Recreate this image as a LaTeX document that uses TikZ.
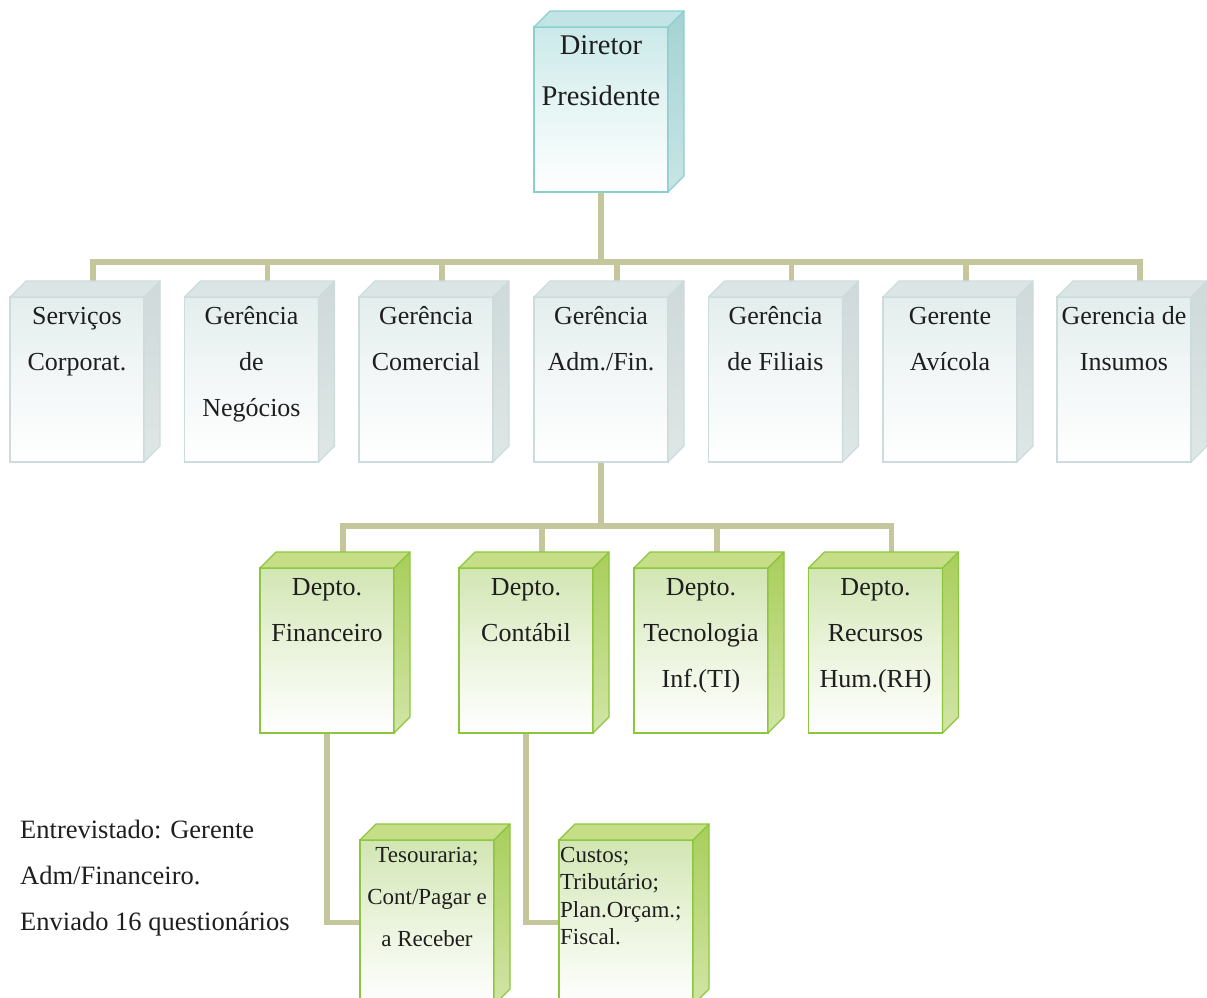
\documentclass[tikz,border=0pt]{standalone}
\usepackage{fontspec}
\setmainfont{Liberation Serif}
\usetikzlibrary{calc}
\pgfdeclarelayer{bg}
\pgfsetlayers{bg,main}
\definecolor{conncol}{HTML}{C6C69C}
\definecolor{txt}{HTML}{1E1E1E}
% cyan (director)
\definecolor{cyB}{HTML}{8CCFCF}
\definecolor{cyF}{HTML}{CBE9E9}
\definecolor{cyT}{HTML}{C3E4E4}
\definecolor{cyS1}{HTML}{A6D2D2}
\definecolor{cyS2}{HTML}{C8E5E5}
% gray
\definecolor{grB}{HTML}{CCDCDC}
\definecolor{grF}{HTML}{E4EDED}
\definecolor{grT}{HTML}{DCE5E5}
\definecolor{grS1}{HTML}{CFD9D9}
\definecolor{grS2}{HTML}{DFE6E6}
% green
\definecolor{gnB}{HTML}{8CC63E}
\definecolor{gnF}{HTML}{D2E6B3}
\definecolor{gnT}{HTML}{C5DE87}
\definecolor{gnS1}{HTML}{A8CE5B}
\definecolor{gnS2}{HTML}{D2E5A6}
\tikzset{
  face/.style={minimum width=134pt, minimum height=165pt, anchor=north west, inner sep=0pt, outer sep=0pt, line width=1.3pt},
  cyface/.style={face, draw=cyB, top color=cyF, bottom color=white, middle color=cyF!45!white},
  grface/.style={face, draw=grB, top color=grF, bottom color=white, middle color=grF!45!white},
  gnface/.style={face, draw=gnB, top color=gnF, bottom color=white, middle color=gnF!45!white},
  lbl/.style={anchor=base, inner sep=0pt, align=center, text=txt},
  conn/.style={draw=conncol, line width=5.5pt, line join=miter}
}
% #1 name, #2 colour prefix
\newcommand\cubefaces[2]{%
  \shade[top color=#2S1, bottom color=#2S2, draw=#2B, line width=1.3pt, line join=round]
    (#1.south east) -- (#1.north east) -- ++(16,-16) -- ($(#1.south east)+(16,-16)$) -- cycle;
  \fill[#2T, draw=#2B, line width=1.3pt, line join=round]
    (#1.north west) -- ++(16,-16) -- ($(#1.north east)+(16,-16)$) -- (#1.north east) -- cycle;
}
\begin{document}
\begin{tikzpicture}[x=1pt,y=-1pt]
\useasboundingbox (0,0) rectangle (1207,998);
\clip (0,0) rectangle (1207,998);

% director
\node[cyface] (dir) at (534,27) {};
\cubefaces{dir}{cy}
\node[lbl, font={\fontsize{28.5}{51}\selectfont}] (dir-t) at ($(dir.north)+(0,78)$) {Diretor\\Presidente};

% managers
\node[grface] (srv) at (10,297) {};
\node[grface] (neg) at (184.5,297) {};
\node[grface] (com) at (359,297) {};
\node[grface] (adm) at (534,297) {};
\node[grface] (fil) at (708.5,297) {};
\node[grface] (avi) at (883,297) {};
\node[grface] (ins) at (1057,297) {};
\foreach \n in {srv,neg,com,adm,fil,avi,ins}{\cubefaces{\n}{gr}}
\tikzset{glbl/.style={lbl, font={\fontsize{26}{46}\selectfont}}}
\node[glbl] (srv-t) at ($(srv.north)+(0,73)$) {Serviços\\Corporat.};
\node[glbl] (neg-t) at ($(neg.north)+(0,119)$) {Gerência\\de\\Negócios};
\node[glbl] (com-t) at ($(com.north)+(0,73)$) {Gerência\\Comercial};
\node[glbl] (adm-t) at ($(adm.north)+(0,73)$) {Gerência\\Adm./Fin.};
\node[glbl] (fil-t) at ($(fil.north)+(0,73)$) {Gerência\\de Filiais};
\node[glbl] (avi-t) at ($(avi.north)+(0,73)$) {Gerente\\Avícola};
\node[glbl] (ins-t) at ($(ins.north)+(0,73)$) {Gerencia de\\Insumos};

% departments
\node[gnface] (fin) at (260,568) {};
\node[gnface] (cont) at (459,568) {};
\node[gnface] (ti) at (634,568) {};
\node[gnface] (rh) at (808.5,568) {};
\foreach \n in {fin,cont,ti,rh}{\cubefaces{\n}{gn}}
\node[glbl] (fin-t) at ($(fin.north)+(0,73)$) {Depto.\\Financeiro};
\node[glbl] (cont-t) at ($(cont.north)+(0,73)$) {Depto.\\Contábil};
\node[glbl] (ti-t) at ($(ti.north)+(0,119)$) {Depto.\\Tecnologia\\Inf.(TI)};
\node[glbl] (rh-t) at ($(rh.north)+(0,119)$) {Depto.\\Recursos\\Hum.(RH)};

% sub-departments
\node[gnface] (tes) at (360,840) {};
\node[gnface] (cus) at (559,840) {};
\cubefaces{tes}{gn}
\cubefaces{cus}{gn}
\node[lbl, font={\fontsize{23}{42}\selectfont}] (tes-t) at ($(tes.north)+(0,106)$) {Tesouraria;\\Cont/Pagar e\\a Receber};
\node[lbl, anchor=base west, align=left, font={\fontsize{23}{27.5}\selectfont}] (cus-t) at ($(cus.north west)+(1,104.5)$) {Custos;\\Tributário;\\Plan.Orçam.;\\Fiscal.};

% note
\coordinate (notepos) at (20,930);
\node[lbl, anchor=base west, align=left, font={\fontsize{26.5}{46}\selectfont}] (note) at (notepos) {Entrevistado: Gerente\\Adm/Financeiro.\\Enviado 16 questionários};

% connectors
\begin{pgfonlayer}{bg}
\coordinate (h1) at (0,262);
\coordinate (h2) at (0,526);
\coordinate (bus1) at (dir.south |- h1);
\coordinate (bus2) at (adm.south |- h2);
\draw[conn] (dir.south) -- (bus1);
\foreach \n in {srv,neg,com,adm,fil,avi,ins}{\draw[conn] ($(\n.north west)+(83,0)$) |- (bus1);}
\draw[conn] (adm.south) -- (bus2);
\foreach \n in {fin,cont,ti,rh}{\draw[conn] ($(\n.north west)+(83,0)$) |- (bus2);}
\draw[conn] (fin.south) |- (tes.west);
\draw[conn] (cont.south) |- (cus.west);
\end{pgfonlayer}
\end{tikzpicture}
\end{document}
